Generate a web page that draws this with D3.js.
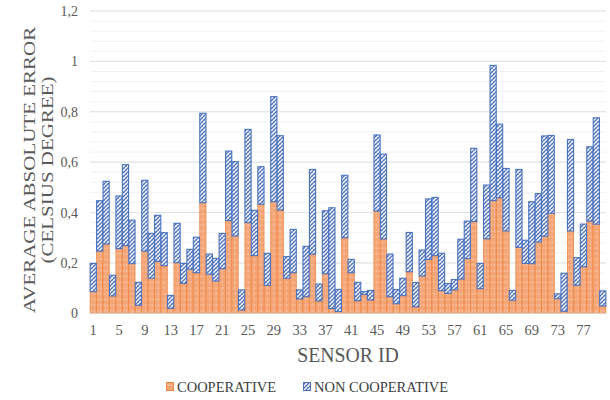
<!DOCTYPE html>
<html><head><meta charset="utf-8">
<script src="https://cdn.jsdelivr.net/npm/d3@7"></script>
<style>body{margin:0;background:#fff}svg{display:block}</style>
</head><body>
<svg id="c" width="610" height="400"></svg>
<script>
const sensorIds = d3.range(1, 81);
const cooperative = [0.086,0.247,0.275,0.069,0.257,0.269,0.197,0.032,0.247,0.139,
0.206,0.189,0.020,0.201,0.119,0.175,0.161,0.439,0.155,0.128,
0.177,0.368,0.307,0.013,0.360,0.229,0.433,0.111,0.443,0.410,
0.139,0.161,0.057,0.066,0.235,0.049,0.157,0.019,0.007,0.300,
0.161,0.050,0.075,0.053,0.406,0.295,0.066,0.038,0.070,0.165,
0.026,0.148,0.214,0.229,0.090,0.079,0.093,0.136,0.217,0.364,
0.098,0.296,0.447,0.459,0.327,0.052,0.262,0.198,0.197,0.283,
0.306,0.397,0.058,0.008,0.327,0.111,0.185,0.366,0.354,0.029];
const nonCooperative = [0.112,0.200,0.249,0.082,0.209,0.321,0.173,0.091,0.281,0.178,
0.183,0.131,0.051,0.156,0.079,0.079,0.141,0.355,0.080,0.090,
0.140,0.276,0.295,0.080,0.370,0.180,0.149,0.127,0.417,0.295,
0.086,0.172,0.036,0.200,0.336,0.067,0.250,0.400,0.088,0.248,
0.053,0.073,0.011,0.038,0.302,0.337,0.169,0.056,0.069,0.156,
0.096,0.103,0.240,0.231,0.148,0.039,0.041,0.158,0.149,0.291,
0.100,0.213,0.537,0.292,0.248,0.039,0.309,0.092,0.246,0.192,
0.398,0.309,0.019,0.151,0.363,0.110,0.169,0.295,0.422,0.060];
const seriesNames = ["COOPERATIVE", "NON COOPERATIVE"];
const yTicks = [0, 0.2, 0.4, 0.6, 0.8, 1.0, 1.2];
const xTickLabels = d3.range(1, 81, 4);

const svg = d3.select("#c");
const defs = svg.append("defs");
// orange dotted pattern
const po = defs.append("pattern").attr("id","pOrange").attr("patternUnits","userSpaceOnUse")
  .attr("width",3.2).attr("height",5.7);
po.append("rect").attr("width",3.2).attr("height",5.7).attr("fill","#F5A678");
po.append("rect").attr("x",1.2).attr("y",2.5).attr("width",1).attr("height",1).attr("fill","#fff").attr("opacity",0.85);
// blue hatch pattern
const pb = defs.append("pattern").attr("id","pBlue").attr("patternUnits","userSpaceOnUse")
  .attr("width",4).attr("height",4);
pb.append("rect").attr("width",4).attr("height",4).attr("fill","#fff");
pb.append("path").attr("d","M-1,1 L1,-1 M0,4 L4,0 M3,5 L5,3").attr("stroke","#4068B8").attr("stroke-width",1.2);
pb.append("path").attr("d","M0,0 L4,4").attr("stroke","#7F9BD4").attr("stroke-width",0.7);

const plotLeft = 90, plotRight = 606, plotTop = 11, plotBottom = 313.3;
const x = d3.scaleBand().domain(sensorIds).range([plotLeft, plotRight]).paddingInner(0.04).paddingOuter(0.02);
const y = d3.scaleLinear().domain([0, 1.2]).range([plotBottom, plotTop]);

// minor gridlines
svg.append("g").selectAll("line").data(d3.range(0, 1.2001, 0.04)).join("line")
  .attr("x1", plotLeft).attr("x2", plotRight).attr("y1", d => y(d)).attr("y2", d => y(d))
  .attr("stroke", "#F0F1F3").attr("stroke-width", 1);
// major gridlines
svg.append("g").selectAll("line").data(yTicks).join("line")
  .attr("x1", plotLeft).attr("x2", plotRight).attr("y1", d => y(d)).attr("y2", d => y(d))
  .attr("stroke", "#DDE1E6").attr("stroke-width", 1);

// bars
const stackData = sensorIds.map((id, i) => ({id, c: cooperative[i], n: nonCooperative[i]}));
svg.append("g").selectAll("rect").data(stackData).join("rect")
  .attr("x", d => x(d.id)).attr("width", x.bandwidth())
  .attr("y", d => y(d.c)).attr("height", d => y(0) - y(d.c))
  .attr("fill", "url(#pOrange)").attr("stroke", "#EE8440").attr("stroke-width", 0.8);
svg.append("g").selectAll("rect").data(stackData).join("rect")
  .attr("x", d => x(d.id)).attr("width", x.bandwidth())
  .attr("y", d => y(d.c + d.n)).attr("height", d => y(d.c) - y(d.c + d.n))
  .attr("fill", "url(#pBlue)").attr("stroke", "#4A72C2").attr("stroke-width", 1.1);

// baseline
svg.append("line").attr("x1", plotLeft).attr("x2", plotRight).attr("y1", y(0)).attr("y2", y(0))
  .attr("stroke", "#D9D9D9").attr("stroke-width", 1);

const fmt = d => d3.format(".1f")(d).replace(/\.0$/, "").replace(".", ",");
// y axis
const ya = svg.append("g").attr("transform", "translate(78,0)")
  .call(d3.axisLeft(y).tickValues(yTicks).tickFormat(fmt).tickSize(0).tickPadding(0));
ya.select(".domain").remove();
ya.selectAll("text").attr("font-family", "Liberation Serif").attr("font-size", 14).attr("fill", "#595959");

// x axis
const xa = svg.append("g").attr("transform", `translate(0,${y(0)+11})`)
  .call(d3.axisBottom(x).tickValues(xTickLabels).tickSize(0).tickPadding(0));
xa.select(".domain").remove();
xa.selectAll("text").attr("font-family", "Liberation Serif").attr("font-size", 14.5).attr("fill", "#595959")
  .attr("dy", "0.71em");

// axis titles
svg.append("text").attr("transform", "translate(348,362) scale(0.9,1)")
  .attr("text-anchor", "middle").attr("font-family", "Liberation Serif").attr("font-size", 22)
  .attr("fill", "#595959").text("SENSOR ID");
const yt = svg.append("g").attr("transform", "translate(35,170) scale(0.84,1) rotate(-90)");
yt.append("text").attr("text-anchor", "middle").attr("font-family", "Liberation Serif").attr("font-size", 21)
  .attr("fill", "#595959").attr("y", 0).text("AVERAGE ABSOLUTE ERROR");
yt.append("text").attr("text-anchor", "middle").attr("font-family", "Liberation Serif").attr("font-size", 21)
  .attr("fill", "#595959").attr("y", 21.5).text("(CELSIUS DEGREE)");

// legend
const legend = [{name: seriesNames[0], fill: "url(#pOrange)", stroke: "#EE8440", x: 166},
                {name: seriesNames[1], fill: "url(#pBlue)", stroke: "#4A72C2", x: 303}];
const lg = svg.append("g").selectAll("g").data(legend).join("g");
lg.append("rect").attr("x", d => d.x + 0.5).attr("y", 382.5).attr("width", 7).attr("height", 8)
  .attr("fill", d => d.fill).attr("stroke", d => d.stroke).attr("stroke-width", 1);
lg.append("text").attr("x", d => d.x + 11).attr("y", 391.5).attr("font-family", "Liberation Serif")
  .attr("font-size", 14.5).attr("fill", "#404040").text(d => d.name);
</script>
</body></html>
